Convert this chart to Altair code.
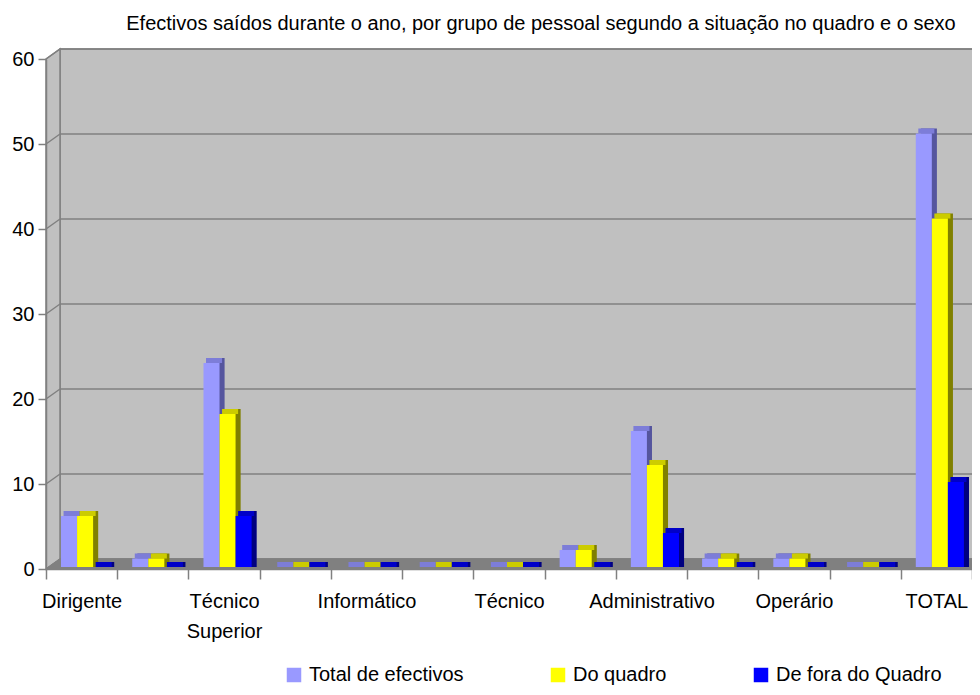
import json
import altair as alt
import pandas as pd

# ---------------- data ----------------
categories = ["Dirigente", "Grupo 2", "Técnico Superior", "Grupo 4", "Informático",
              "Grupo 6", "Técnico", "Grupo 8", "Administrativo", "Grupo 10",
              "Operário", "Grupo 12", "TOTAL"]
shown_labels = ["Dirigente", "Técnico Superior", "Informático", "Técnico",
                "Administrativo", "Operário", "TOTAL"]
series = ["Total de efectivos", "Do quadro", "De fora do Quadro"]
total_efectivos = [6, 1, 24, 0, 0, 0, 0, 2, 16, 1, 1, 0, 51]
do_quadro = [6, 1, 18, 0, 0, 0, 0, 2, 12, 1, 1, 0, 41]
de_fora = [0, 0, 6, 0, 0, 0, 0, 0, 4, 0, 0, 0, 10]
y_ticks = [0, 10, 20, 30, 40, 50, 60]
title_text = "Efectivos saídos durante o ano, por grupo de pessoal segundo a situação no quadro e o sexo"

# ---------------- styles ----------------
front_colors = ["#9999ff", "#ffff00", "#0000ff"]
top_colors = ["#7d7dd8", "#cccc00", "#0000c8"]
side_colors = ["#55559e", "#808000", "#000080"]
FONT = "Liberation Sans"
FS = 20
W, H = 926, 510
DX, DY = 14, -10          # depth offset of the back wall
BY = -2                   # bars sit slightly behind the front edge
SY = -5                   # bar depth (vertical part)
PO = 0.72                 # outer padding of the series sub-band
ALIGN_FRONT, ALIGN_TOP, ALIGN_SIDE = 0.65, 0.76, 0.87

rows = []
for cat, a, b, c in zip(categories, total_efectivos, do_quadro, de_fora):
    for s, v in zip(series, (a, b, c)):
        rows.append({"category": cat, "series": s, "value": v})
df = pd.DataFrame(rows)
grid_df = pd.DataFrame({"v": y_ticks})
one = pd.DataFrame({"a": [0]})

hidden = [c for c in categories if c not in shown_labels]
label_expr = ("datum.value == 'Técnico Superior' ? ['Técnico', 'Superior'] : "
              f"(indexof({json.dumps(hidden, ensure_ascii=False)}, datum.value) >= 0 ? '' : datum.value)")

yscale = alt.Scale(domain=[0, 60], nice=False, zero=True)
xscale = alt.Scale(domain=categories, paddingInner=0, paddingOuter=0)


def xo_scale(align):
    return alt.Scale(domain=series, paddingInner=0, paddingOuter=PO, align=align)


x_axis = alt.Axis(title=None, labelExpr=label_expr, tickBand="extent", tickSize=10,
                  tickColor="#808080", tickWidth=1.5, domainColor="#808080", domainWidth=1.5,
                  labelFont=FONT, labelFontSize=FS, labelColor="#000000", labelPadding=12,
                  labelLineHeight=30, labelAngle=0, labelOverlap=False, grid=False, zindex=1)
y_axis = alt.Axis(title=None, values=y_ticks, tickSize=8, tickColor="#808080", tickWidth=1.5,
                  domainColor="#808080", domainWidth=1.5, labelFont=FONT, labelFontSize=FS,
                  labelColor="#000000", labelPadding=4, grid=False, zindex=1)

# back wall
back = alt.Chart(one).mark_rect(fill="#c0c0c0", stroke="#808080", strokeWidth=1.5).encode(
    x=alt.value(DX), x2=alt.value(W + DX), y=alt.value(DY), y2=alt.value(H + DY))

# left wall
left_df = pd.DataFrame({"px": [0, DX], "top": [0, DY], "bot": [H, H + DY]})
left = alt.Chart(left_df).mark_area(fill="#c0c0c0", stroke="#808080", strokeWidth=1.5).encode(
    x=alt.X("px:Q", scale=None, axis=None),
    y=alt.Y("top:Q", scale=None, axis=None),
    y2=alt.Y2("bot:Q"))

# gridlines on back wall
grid_back = alt.Chart(grid_df).mark_rule(color="#808080", strokeWidth=1.5, yOffset=DY, y2Offset=DY).encode(
    x=alt.value(DX), x2=alt.value(W + DX),
    y=alt.Y("v:Q", scale=yscale, axis=y_axis), y2=alt.Y2("v:Q"))
# gridlines on left wall
grid_left = alt.Chart(grid_df).mark_rule(color="#808080", strokeWidth=1.5, y2Offset=DY).encode(
    x=alt.value(0), x2=alt.value(DX),
    y=alt.Y("v:Q", scale=yscale, axis=y_axis), y2=alt.Y2("v:Q"))

# floor
floor_df = pd.DataFrame({"px": [0, DX, W, W + DX],
                         "top": [H, H + DY, H + DY, H + DY],
                         "bot": [H, H, H, H + DY]})
floor = alt.Chart(floor_df).mark_area(fill="#808080", stroke="#808080", strokeWidth=1).encode(
    x=alt.X("px:Q", scale=None, axis=None),
    y=alt.Y("top:Q", scale=None, axis=None),
    y2=alt.Y2("bot:Q"))

xenc = alt.X("category:N", sort=categories, scale=xscale, axis=x_axis)
yenc = alt.Y("value:Q", scale=yscale, axis=y_axis)

side = alt.Chart(df).mark_bar(yOffset=BY + SY, y2Offset=BY).encode(
    x=xenc, xOffset=alt.XOffset("series:N", sort=series, scale=xo_scale(ALIGN_SIDE)),
    y=yenc, y2=alt.Y2(datum=0),
    color=alt.Color("series:N", sort=series, scale=alt.Scale(domain=series, range=side_colors), legend=None))

top = alt.Chart(df).mark_bar(yOffset=BY + SY, y2Offset=BY).encode(
    x=xenc, xOffset=alt.XOffset("series:N", sort=series, scale=xo_scale(ALIGN_TOP)),
    y=yenc, y2=alt.Y2("value:Q"),
    color=alt.Color("series:N", sort=series, scale=alt.Scale(domain=series, range=top_colors), legend=None))

front = alt.Chart(df).mark_bar(yOffset=BY, y2Offset=BY).encode(
    x=xenc, xOffset=alt.XOffset("series:N", sort=series, scale=xo_scale(ALIGN_FRONT)),
    y=yenc, y2=alt.Y2(datum=0),
    color=alt.Color("series:N", sort=series,
                    scale=alt.Scale(domain=series, range=front_colors),
                    legend=alt.Legend(title=None, orient="none", legendX=238, legendY=606,
                                      direction="horizontal", columnPadding=84,
                                      symbolType="square", symbolSize=210, symbolStrokeWidth=0,
                                      labelFont=FONT, labelFontSize=FS, labelColor="#000000",
                                      labelOffset=5, labelLimit=400)))

chart = alt.layer(back, left, grid_back, grid_left, floor, side, top, front).resolve_scale(
    color="independent", xOffset="independent"
).properties(
    width=W, height=H,
    autosize=alt.AutoSizeParams(type="none"),
    padding={"left": 38, "top": 51, "right": 0, "bottom": 118},
    title=alt.TitleParams(title_text, font=FONT, fontSize=FS, fontWeight="normal",
                          color="#000000", anchor="middle", dx=32, offset=12),
).configure_view(stroke=None)

chart.save("out.html", embed_options={"renderer": "svg", "actions": False})
